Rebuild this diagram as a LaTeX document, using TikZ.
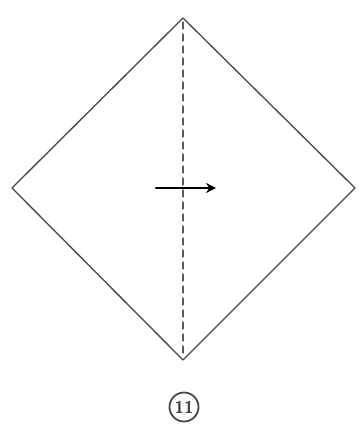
\documentclass[tikz,border=0pt]{standalone}
\usetikzlibrary{arrows.meta}
\begin{document}
\begin{tikzpicture}[x=1pt,y=-1pt,line cap=round,line join=round]
  \definecolor{paperline}{RGB}{70,70,70}
  \definecolor{foldline}{RGB}{90,90,90}

  \useasboundingbox (0,0) rectangle (360,430);

  % square sheet turned on its corner
  \draw[paperline,line width=1.3pt] (183,18) -- (355,188) -- (183,360) -- (12,188) -- cycle;

  % valley fold along the vertical diagonal
  \draw[foldline,line width=1.3pt,dash pattern=on 7pt off 5pt] (183,22) -- (183,356);

  % fold direction arrow
  \draw[black,line width=2.2pt,-{Stealth[length=10pt,width=10pt]}] (156,188) -- (216,188);

  % step number
  \node[draw=paperline,line width=1.8pt,circle,minimum size=29pt,inner sep=0pt,font=\sffamily\bfseries\fontsize{17}{17}\selectfont,text=paperline] (stepno) at (184,407) {11};
\end{tikzpicture}
\end{document}
